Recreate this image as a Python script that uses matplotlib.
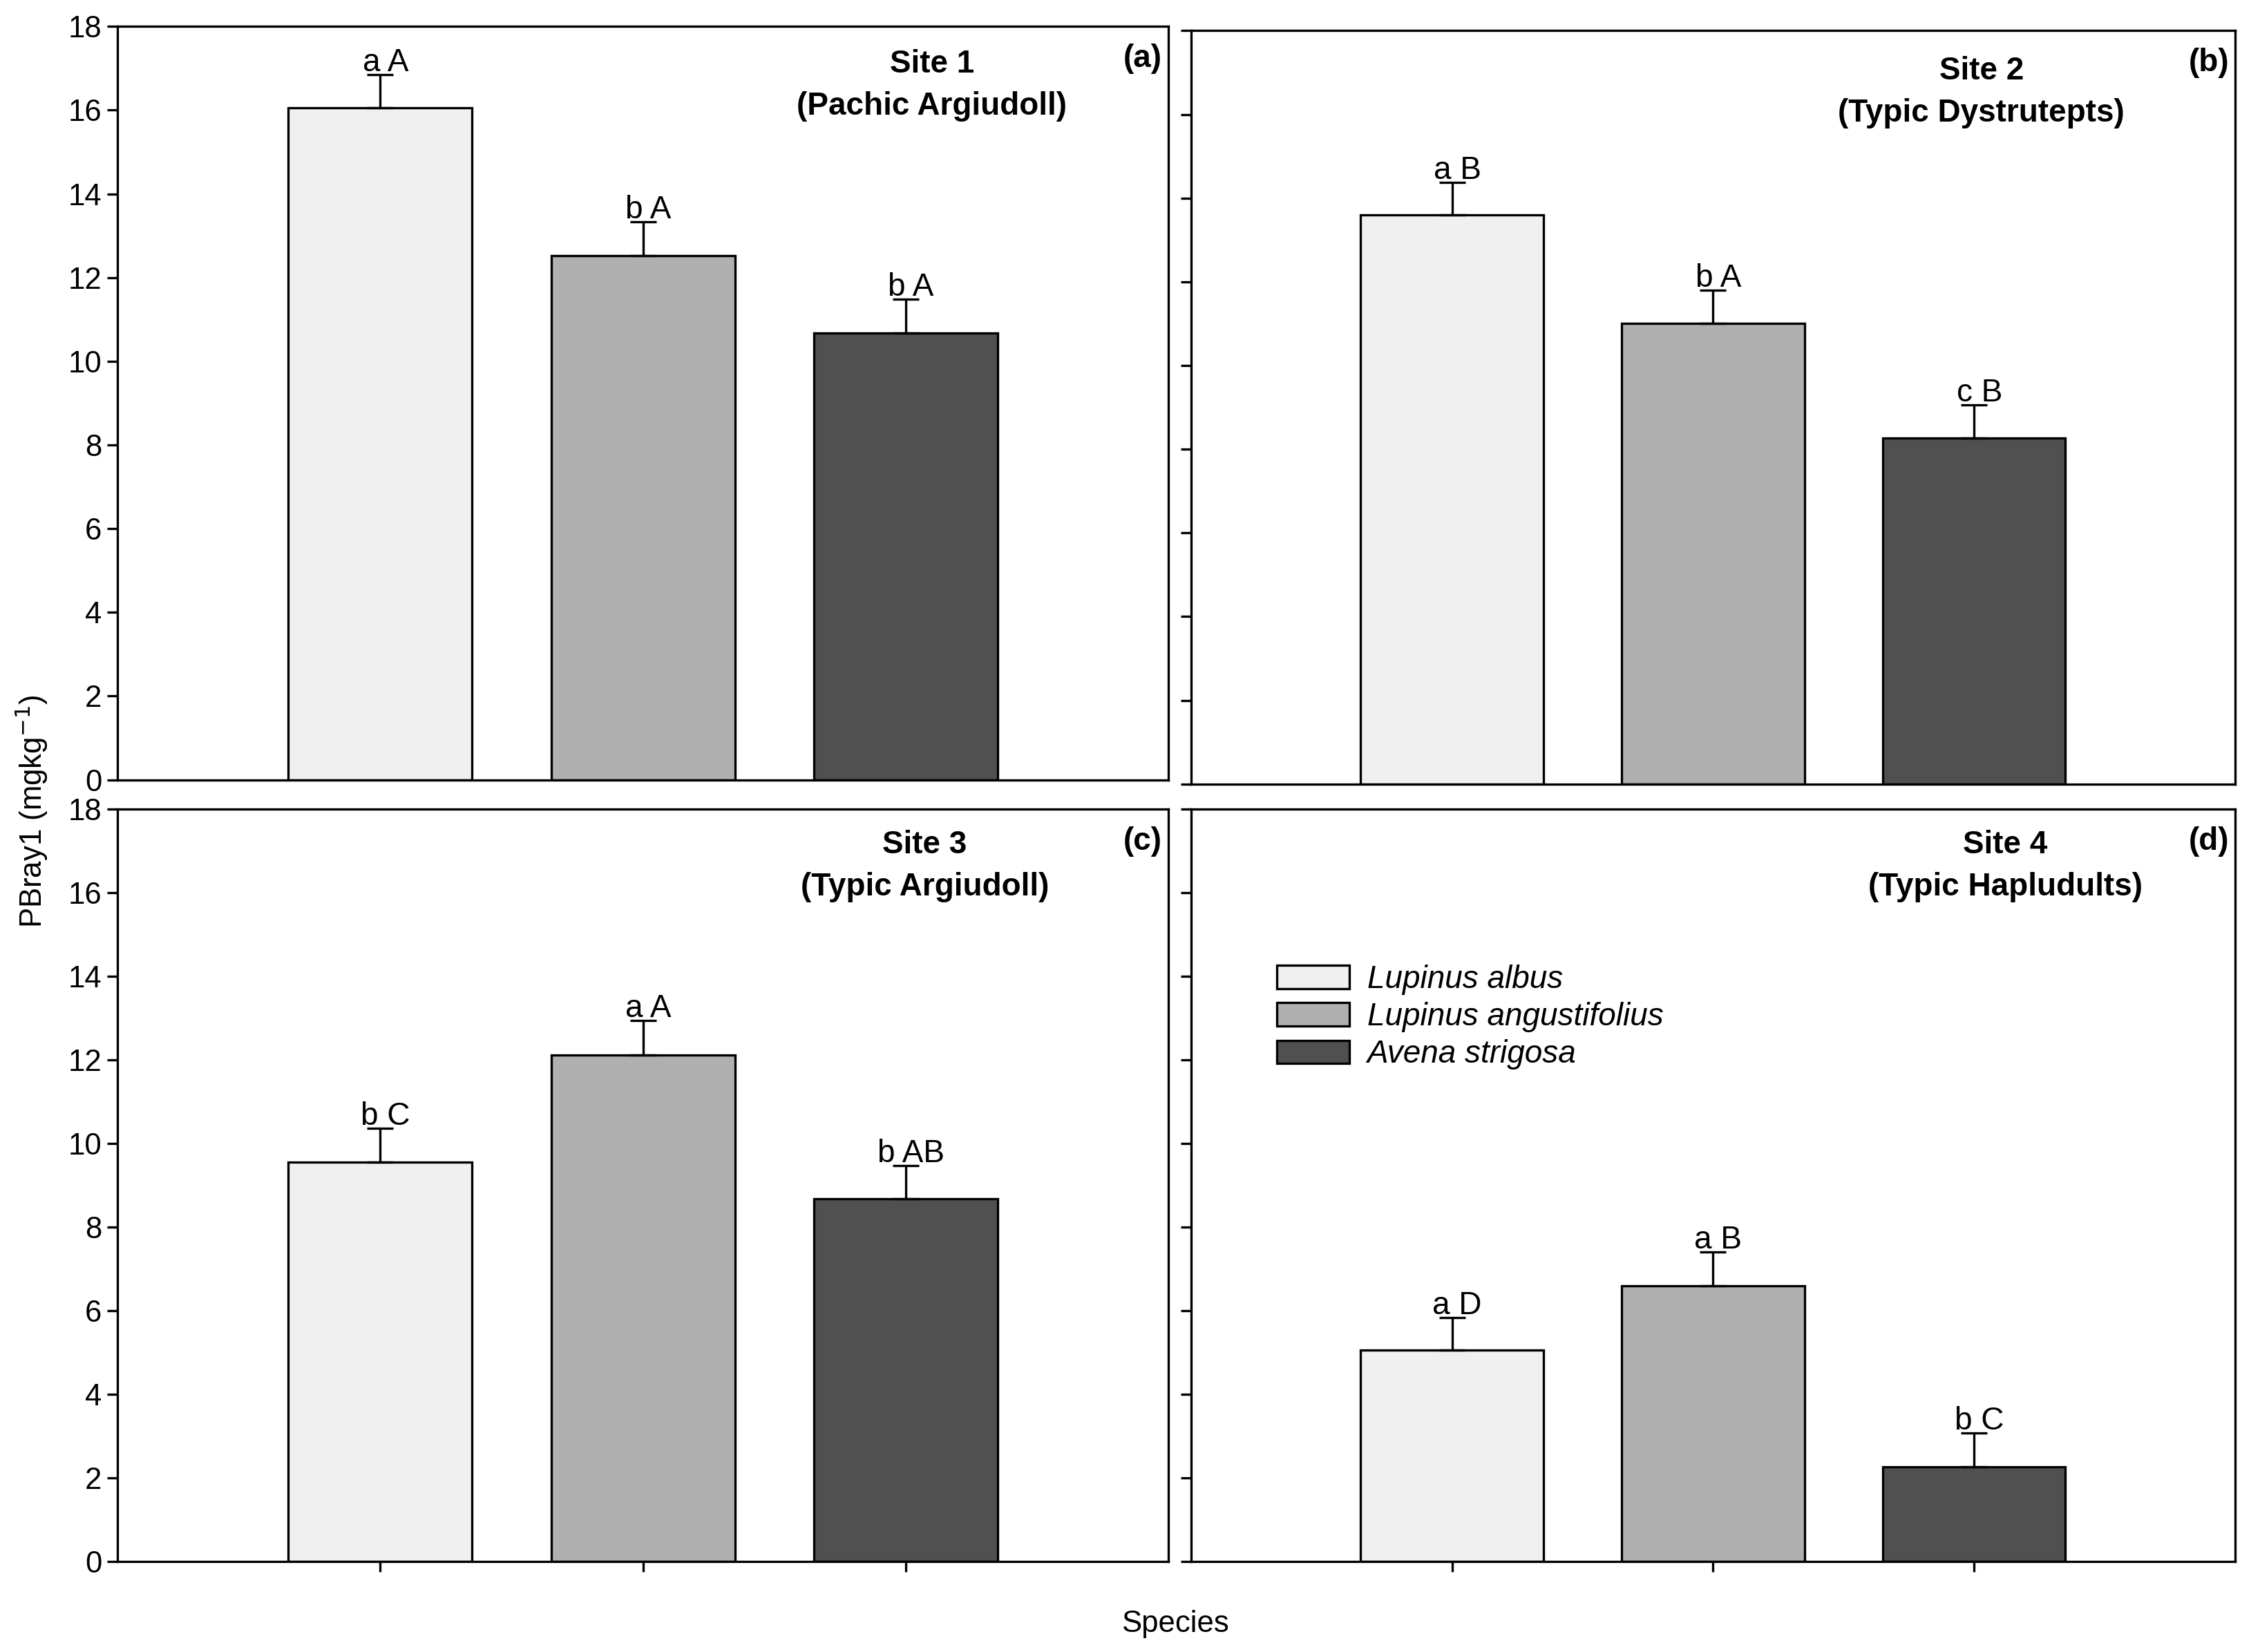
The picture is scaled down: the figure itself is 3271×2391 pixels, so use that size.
import matplotlib
matplotlib.use("Agg")
import matplotlib.pyplot as plt
from matplotlib import font_manager
from matplotlib.patches import Patch

# data
species = ["Lupinus albus", "Lupinus angustifolius", "Avena strigosa"]
sites = ["Site 1", "Site 2", "Site 3", "Site 4"]
soils = ["(Pachic Argiudoll)", "(Typic Dystrutepts)", "(Typic Argiudoll)", "(Typic Hapludults)"]
panel_tags = ["(a)", "(b)", "(c)", "(d)"]

site1 = [16.05, 12.52, 10.68]
site2 = [13.6, 11.0, 8.27]
site3 = [9.56, 12.12, 8.67]
site4 = [5.05, 6.59, 2.26]

site1_err = [0.8, 0.82, 0.8]
site2_err = [0.78, 0.8, 0.79]
site3_err = [0.8, 0.82, 0.8]
site4_err = [0.79, 0.81, 0.81]

site1_letters = ["a A", "b A", "b A"]
site2_letters = ["a B", "b A", "c B"]
site3_letters = ["b C", "a A", "b AB"]
site4_letters = ["a D", "a B", "b C"]

colors = ["#f0f0f0", "#b0b0b0", "#505050"]

names = {f.name for f in font_manager.fontManager.ttflist}
narrow = "Liberation Sans Narrow" if "Liberation Sans Narrow" in names else "Liberation Sans"
plt.rcParams["font.family"] = [narrow, "DejaVu Sans"]

fig = plt.figure(figsize=(3271 / 300, 2391 / 300), dpi=300)

# axes rectangles [left, bottom, width, height]
rects = [
    [0.052, 0.528, 0.465, 0.456],
    [0.527, 0.5254, 0.462, 0.456],
    [0.052, 0.0548, 0.465, 0.4555],
    [0.527, 0.0548, 0.462, 0.4555],
]
title_pos = [(0.775, 0.950), (0.757, 0.946), (0.768, 0.952), (0.78, 0.952)]

values = [site1, site2, site3, site4]
errors = [site1_err, site2_err, site3_err, site4_err]
letters = [site1_letters, site2_letters, site3_letters, site4_letters]

x = [1, 2, 3]
for i in range(4):
    ax = fig.add_axes(rects[i])
    ax.bar(x, values[i], width=0.7, color=colors, edgecolor="black", linewidth=0.8, zorder=2)
    ax.errorbar(x, values[i], yerr=[[0, 0, 0], errors[i]], fmt="none", ecolor="black",
                elinewidth=0.8, capsize=4.5, capthick=0.8, zorder=3)
    for xi, v, e, lab in zip(x, values[i], errors[i], letters[i]):
        ax.text(xi + 0.02, v + e + 0.08, lab, ha="center", va="baseline", fontsize=11)
    ax.set_xlim(0, 4)
    ax.set_ylim(0, 18)
    ax.set_yticks(range(0, 19, 2))
    if i in (0, 2):
        ax.set_yticklabels([str(t) for t in range(0, 19, 2)], fontsize=10.5)
    else:
        ax.set_yticklabels([])
    if i in (2, 3):
        ax.set_xticks(x)
        ax.set_xticklabels([])
    else:
        ax.set_xticks([])
    ax.tick_params(direction="out", length=3.5, width=0.8, pad=2)
    for s in ax.spines.values():
        s.set_linewidth(0.8)
    tx, ty = title_pos[i]
    ax.text(tx, ty, sites[i], transform=ax.transAxes, ha="center", va="center",
            fontsize=11, fontweight="bold")
    ax.text(tx, ty - 0.056, soils[i], transform=ax.transAxes, ha="center", va="center",
            fontsize=11, fontweight="bold")
    ax.text(0.994, 0.957, panel_tags[i], transform=ax.transAxes, ha="right", va="center",
            fontsize=11, fontweight="bold")
    if i == 3:
        handles = [Patch(facecolor=c, edgecolor="black", linewidth=0.8) for c in colors]
        leg = ax.legend(handles, species, loc="upper left", bbox_to_anchor=(0.07, 0.81),
                        frameon=False, fontsize=11, handlelength=2.3, handleheight=0.75,
                        handletextpad=0.55, labelspacing=0.22, borderaxespad=0)
        for t in leg.get_texts():
            t.set_fontstyle("italic")

fig.text(0.014, 0.509, "PBray1 (mgkg$^{-1}$)", rotation=90, ha="center", va="center",
         fontsize=10.5, family=["Liberation Sans", "DejaVu Sans"])
fig.text(0.52, 0.017, "Species", ha="center", va="center", fontsize=10.5)

fig.savefig("out.png", dpi=300)
